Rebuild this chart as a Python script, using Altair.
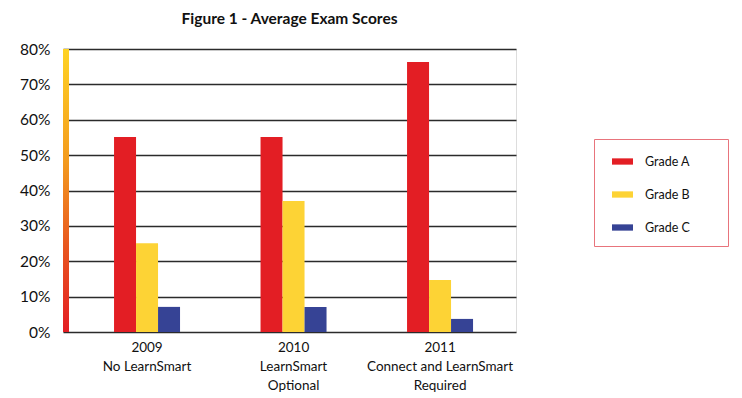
import altair as alt
import pandas as pd

categories = ["2009\nNo LearnSmart", "2010\nLearnSmart\nOptional", "2011\nConnect and LearnSmart\nRequired"]
grades = ["Grade A", "Grade B", "Grade C"]
grade_a = [55.1, 55.1, 76.3]
grade_b = [25.1, 37.0, 14.7]
grade_c = [7.1, 7.1, 3.7]
y_ticks = [0, 10, 20, 30, 40, 50, 60, 70, 80]
colors = ["#E31E24", "#FDD335", "#364395"]

rows = []
for i, c in enumerate(categories):
    for g, vals in zip(grades, [grade_a, grade_b, grade_c]):
        rows.append({"cat": c, "grade": g, "value": vals[i]})
df = pd.DataFrame(rows)

FONT = "Lato"
W, H = 453, 283
PAD_LABEL = "\u00a0" * 8 + "\u200b"

bars = alt.Chart(df).mark_bar().encode(
    x=alt.X("cat:N", sort=categories, title=None,
            scale=alt.Scale(paddingInner=0.5495, paddingOuter=0.3208, align=0.543),
            axis=alt.Axis(labelExpr="split(datum.label, '\\n')", labelAngle=0,
                          labelFont=FONT, labelFontSize=13.5, labelColor="#111",
                          labelLineHeight=19, labelPadding=8, ticks=False,
                          domain=False, labelBaseline="top")),
    xOffset=alt.XOffset("grade:N", sort=grades,
                        scale=alt.Scale(paddingInner=0, paddingOuter=0)),
    y=alt.Y("value:Q", title=None,
            scale=alt.Scale(domain=[0, 80], nice=False),
            axis=alt.Axis(values=y_ticks, labelExpr="datum.value + '%'",
                          labelFont=FONT, labelFontSize=15.5, labelColor="#111",
                          labelPadding=13, ticks=False, domain=False,
                          grid=True, gridColor="#2b2b2b", gridWidth=1.6)),
    color=alt.Color("grade:N", sort=grades,
                    scale=alt.Scale(domain=grades, range=colors),
                    legend=alt.Legend(
                        title=None, orient="none", legendX=531, legendY=90,
                        symbolType="M-0.43,-0.3H1.57V0.3H-0.43Z", symbolSize=441,
                        symbolStrokeWidth=0, labelFont=FONT, labelFontSize=12.5,
                        labelColor="#111", labelOffset=18, rowPadding=16,
                        padding=12, strokeColor="#E8747C", fillColor="white",
                        labelExpr="datum.label + '" + PAD_LABEL + "'"))
)

grad = alt.Chart(pd.DataFrame({"k": [0]})).mark_rect(
    color=alt.Gradient(gradient="linear", x1=0, x2=0, y1=0, y2=1,
                       stops=[alt.GradientStop(color="#FFD324", offset=0),
                              alt.GradientStop(color="#F39A1E", offset=0.4),
                              alt.GradientStop(color="#E8561F", offset=0.7),
                              alt.GradientStop(color="#E31E24", offset=1)])
).encode(x=alt.value(0), x2=alt.value(6), y=alt.value(0), y2=alt.value(H))

chart = alt.layer(grad, bars).properties(
    width=W, height=H,
    title=alt.Title("Figure 1 - Average Exam Scores", font=FONT, fontSize=15.5,
                    fontWeight="bold", color="#111", anchor="middle", offset=15),
    autosize=alt.AutoSizeParams(type="none"),
    padding={"left": 55, "top": 41, "right": 218, "bottom": 66},
).configure_view(fill="#FEF7EA", stroke="#1a1a1a", strokeWidth=1.6
).configure(background="white")

chart.save("out.html", embed_options={"renderer": "svg", "actions": False})
